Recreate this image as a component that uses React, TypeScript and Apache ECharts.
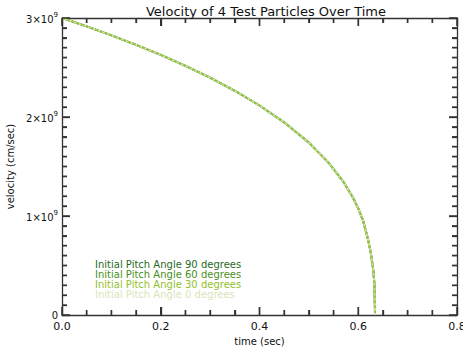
import React, { useEffect, useRef } from "react";
import * as echarts from "echarts";

const timeSec = [0, 0.05, 0.1, 0.15, 0.2, 0.25, 0.3, 0.35, 0.4, 0.45, 0.5, 0.54, 0.57, 0.59, 0.6, 0.61, 0.62, 0.625, 0.63, 0.632, 0.633, 0.634];
const vel90 = [3.0e9, 2.915e9, 2.825e9, 2.729e9, 2.627e9, 2.517e9, 2.397e9, 2.265e9, 2.116e9, 1.946e9, 1.741e9, 1.538e9, 1.345e9, 1.179e9, 1.077e9, 0.95e9, 0.76e9, 0.64e9, 0.47e9, 0.36e9, 0.28e9, 0];
const vel60 = [3.0e9, 2.915e9, 2.825e9, 2.729e9, 2.627e9, 2.517e9, 2.397e9, 2.265e9, 2.116e9, 1.946e9, 1.741e9, 1.538e9, 1.345e9, 1.179e9, 1.077e9, 0.95e9, 0.76e9, 0.64e9, 0.47e9, 0.36e9, 0.28e9, 0];
const vel30 = [3.0e9, 2.915e9, 2.825e9, 2.729e9, 2.627e9, 2.517e9, 2.397e9, 2.265e9, 2.116e9, 1.946e9, 1.741e9, 1.538e9, 1.345e9, 1.179e9, 1.077e9, 0.95e9, 0.76e9, 0.64e9, 0.47e9, 0.36e9, 0.28e9, 0];
const vel0 = [3.0e9, 2.915e9, 2.825e9, 2.729e9, 2.627e9, 2.517e9, 2.397e9, 2.265e9, 2.116e9, 1.946e9, 1.741e9, 1.538e9, 1.345e9, 1.179e9, 1.077e9, 0.95e9, 0.76e9, 0.64e9, 0.47e9, 0.36e9, 0.28e9, 0];

const seriesNames = [
  "Initial Pitch Angle 90 degrees",
  "Initial Pitch Angle 60 degrees",
  "Initial Pitch Angle 30 degrees",
  "Initial Pitch Angle 0 degrees",
];
const seriesColors = ["#1f6b1a", "#4a8f1c", "#93c12c", "#d6e6b8"];
const seriesValues = [vel90, vel60, vel30, vel0];

// tick values (x in sec, y in cm/sec)
const xMajorTicks = [0, 0.2, 0.4, 0.6, 0.8];
const xMinorTicks = [0.05, 0.1, 0.15, 0.25, 0.3, 0.35, 0.45, 0.5, 0.55, 0.65, 0.7, 0.75];
const yMajorTicks = [0, 1e9, 2e9, 3e9];
const yMinorTicks = [
  1e8, 2e8, 3e8, 4e8, 5e8, 6e8, 7e8, 8e8, 9e8,
  1.1e9, 1.2e9, 1.3e9, 1.4e9, 1.5e9, 1.6e9, 1.7e9, 1.8e9, 1.9e9,
  2.1e9, 2.2e9, 2.3e9, 2.4e9, 2.5e9, 2.6e9, 2.7e9, 2.8e9, 2.9e9,
];

const X_MIN = 0, X_MAX = 0.8, Y_MIN = 0, Y_MAX = 3e9;
const FONT = "DejaVu Sans";
const AXIS_COLOR = "#333";

export default function App() {
  const ref = useRef<HTMLDivElement>(null);
  useEffect(() => {
    if (!ref.current) return;
    const chart = echarts.init(ref.current, null, { renderer: "svg" });
    const order = [0, 1, 3, 2];

    const lineSeries = order.map((i) => ({
      type: "line",
      name: seriesNames[i],
      xAxisIndex: 0,
      yAxisIndex: 0,
      data: timeSec.map((t, k) => [t, seriesValues[i][k]]),
      showSymbol: false,
      symbol: "none",
      lineStyle: {
        color: seriesColors[i],
        width: i === 2 ? 1.6 : 2,
        type: i === 2 ? [3, 2] : "solid",
      },
      z: 2 + order.indexOf(i),
    }));

    // [x, y, kind]  kind: 0 x-major, 1 x-minor, 2 y-major, 3 y-minor
    const tickData: number[][] = [
      ...xMajorTicks.map((v) => [v, Y_MIN, 0]),
      ...xMinorTicks.map((v) => [v, Y_MIN, 1]),
      ...yMajorTicks.map((v) => [X_MIN, v, 2]),
      ...yMinorTicks.map((v) => [X_MIN, v, 3]),
    ];

    const tickSeries = {
      type: "custom",
      name: "ticks",
      xAxisIndex: 0,
      yAxisIndex: 0,
      z: 20,
      silent: true,
      clip: false,
      data: tickData,
      renderItem: (params: any, api: any) => {
        const kind = api.value(2);
        const style = { stroke: AXIS_COLOR, lineWidth: 1.5, fill: "none" };
        if (kind < 2) {
          const v = api.value(0);
          const len = kind === 0 ? 8 : 5;
          const b = api.coord([v, Y_MIN]);
          const t = api.coord([v, Y_MAX]);
          return {
            type: "group",
            children: [
              { type: "line", shape: { x1: b[0], y1: b[1], x2: b[0], y2: b[1] - len }, style },
              { type: "line", shape: { x1: t[0], y1: t[1], x2: t[0], y2: t[1] + len }, style },
            ],
          };
        }
        const v = api.value(1);
        const len = kind === 2 ? 8 : 5;
        const l = api.coord([X_MIN, v]);
        const r = api.coord([X_MAX, v]);
        return {
          type: "group",
          children: [
            { type: "line", shape: { x1: l[0], y1: l[1], x2: l[0] + len, y2: l[1] }, style },
            { type: "line", shape: { x1: r[0], y1: r[1], x2: r[0] - len, y2: r[1] }, style },
          ],
        };
      },
    };

    const mkLine = () => ({ show: true, onZero: false, lineStyle: { color: AXIS_COLOR, width: 1.3 } });
    const mkTick = () => ({ show: true, inside: true, length: 8, lineStyle: { color: AXIS_COLOR, width: 1.3 } });
    const mkMinor = (n: number) => ({ show: true, splitNumber: n, length: 5, lineStyle: { color: AXIS_COLOR, width: 1.3 } });

    chart.setOption({
      animation: false,
      backgroundColor: "#ffffff",
      textStyle: { fontFamily: FONT },
      title: {
        text: "Velocity of 4 Test Particles Over Time",
        left: 261,
        textAlign: "center",
        top: 0,
        textStyle: { fontSize: 13, fontWeight: "normal", color: "#111", fontFamily: FONT },
      },
      grid: { left: 62, right: 6, top: 18, bottom: 36, outerBoundsMode: "none", containLabel: false },
      xAxis: [
        {
          type: "value",
          position: "bottom",
          min: X_MIN,
          max: X_MAX,
          interval: 0.2,
          axisLine: mkLine(),
          axisTick: mkTick(),
          minorTick: mkMinor(4),
          splitLine: { show: false },
          name: "time (sec)",
          nameLocation: "middle",
          nameGap: 21,
          nameTextStyle: { fontSize: 10, color: "#111", fontFamily: FONT },
          axisLabel: {
            fontSize: 11,
            color: "#111",
            margin: 6,
            fontFamily: FONT,
            formatter: (v: number) => v.toFixed(1),
          },
        },
        {
          type: "value",
          position: "top",
          min: X_MIN,
          max: X_MAX,
          interval: 0.2,
          axisLine: mkLine(),
          axisTick: mkTick(),
          minorTick: mkMinor(4),
          axisLabel: { show: false },
          splitLine: { show: false },
        },
      ],
      yAxis: [
        {
          type: "value",
          position: "left",
          min: Y_MIN,
          max: Y_MAX,
          interval: 1e9,
          axisLine: mkLine(),
          axisTick: mkTick(),
          minorTick: mkMinor(10),
          splitLine: { show: false },
          name: "velocity (cm/sec)",
          nameLocation: "middle",
          nameGap: 38,
          nameRotate: 90,
          nameTextStyle: { fontSize: 10, color: "#111", fontFamily: FONT },
          axisLabel: {
            margin: 4,
            fontFamily: FONT,
            formatter: (v: number) => {
              if (v === 0) return "{a|0}";
              return "{a|" + Math.round(v / 1e9) + "×10}{b|9}";
            },
            rich: {
              a: { fontSize: 10, color: "#111", fontFamily: FONT, verticalAlign: "bottom" },
              b: { fontSize: 7, color: "#111", fontFamily: FONT, verticalAlign: "top", padding: [0, 0, 6, 0] },
            },
          },
        },
        {
          type: "value",
          position: "right",
          min: Y_MIN,
          max: Y_MAX,
          interval: 1e9,
          axisLine: mkLine(),
          axisTick: mkTick(),
          minorTick: mkMinor(10),
          axisLabel: { show: false },
          splitLine: { show: false },
        },
      ],
      series: [...lineSeries, tickSeries],
      graphic: seriesNames.map((n, i) => ({
        type: "text",
        left: 95,
        top: 259 + i * 10,
        style: { text: n, fill: seriesColors[i], fontSize: 10, fontFamily: FONT },
      })),
    });

    return () => chart.dispose();
  }, []);
  return <div ref={ref} style={{ position: "fixed", left: 0, top: 0, width: 463, height: 351 }} />;
}
